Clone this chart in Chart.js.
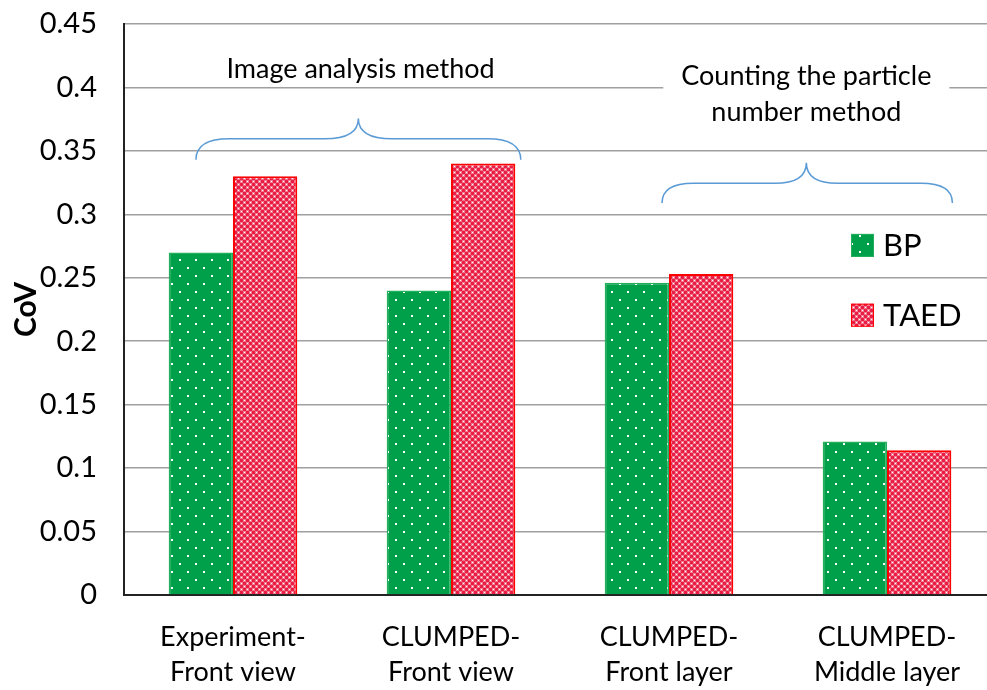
<!DOCTYPE html>
<html>
<head>
<meta charset="utf-8">
<script src="https://cdn.jsdelivr.net/npm/chart.js@4/dist/chart.umd.min.js"></script>
<style>
  html, body { margin: 0; padding: 0; background: #fff; overflow: hidden; }
  #wrap { position: relative; width: 1000px; height: 690px; }
</style>
</head>
<body>
<div id="wrap"><canvas id="c"></canvas></div>
<script>
// Categories (two-line labels) and CoV values per series
const categories = [
  ['Experiment-', 'Front view'],
  ['CLUMPED-', 'Front view'],
  ['CLUMPED-', 'Front layer'],
  ['CLUMPED-', 'Middle layer']
];
const bpValues   = [0.27, 0.24, 0.246, 0.121];
const taedValues = [0.33, 0.34, 0.253, 0.114];
const seriesNames = ['BP', 'TAED'];

const FONT = 'Lato, "Open Sans", sans-serif';

// Fill patterns: green with sparse white dots, red with a dense white checker
function dotPattern() {
  const c = document.createElement('canvas');
  c.width = 16; c.height = 16;
  const g = c.getContext('2d');
  g.fillStyle = '#00A04B';
  g.fillRect(0, 0, 16, 16);
  g.fillStyle = '#ffffff';
  g.fillRect(3, 3, 2, 2);
  g.fillRect(11, 11, 2, 2);
  return g.createPattern(c, 'repeat');
}
function checkPattern() {
  const c = document.createElement('canvas');
  c.width = 6; c.height = 6;
  const g = c.getContext('2d');
  g.fillStyle = '#EA1E44';
  g.fillRect(0, 0, 6, 6);
  g.fillStyle = '#F27A90';
  g.fillRect(0, 0, 3, 3);
  g.fillRect(3, 3, 3, 3);
  g.fillStyle = '#ffffff';
  g.fillRect(1, 1, 1, 1);
  g.fillRect(4, 4, 1, 1);
  return g.createPattern(c, 'repeat');
}
const greenFill = dotPattern();
const redFill = checkPattern();

// Brace annotations + group captions; x in category units, y in CoV units
const groups = [
  { left: -0.17, right: 1.32, peak: 0.575, textX: 0.585, lines: ['Image analysis method'],
    textY: 0.414, braceTop: 0.3755, braceMid: 0.3595, braceEnd: 0.343, backing: false },
  { left: 1.968, right: 3.30, peak: 2.63, textX: 2.63, lines: ['Counting the particle', 'number method'],
    textY: 0.4085, braceTop: 0.3407, braceMid: 0.3245, braceEnd: 0.309, backing: true }
];

const annotationPlugin = {
  id: 'groupBraces',
  afterDatasetsDraw(chart) {
    const { ctx, scales: { x, y } } = chart;
    ctx.save();
    groups.forEach(gr => {
      const left = x.getPixelForValue(gr.left);
      const right = x.getPixelForValue(gr.right);
      const cx = x.getPixelForValue(gr.peak);
      const tx = x.getPixelForValue(gr.textX);
      const yTop = y.getPixelForValue(gr.braceTop);
      const yMid = y.getPixelForValue(gr.braceMid);
      const yEnd = y.getPixelForValue(gr.braceEnd);
      const r = yEnd - yMid;
      // caption (optionally with white backing over the grid)
      ctx.font = '27px ' + FONT;
      ctx.textAlign = 'center';
      ctx.textBaseline = 'middle';
      const ty = y.getPixelForValue(gr.textY);
      const lh = 36;
      if (gr.backing) {
        const w = Math.max(...gr.lines.map(l => ctx.measureText(l).width)) + 36;
        ctx.fillStyle = '#fff';
        ctx.fillRect(tx - w / 2, ty - 22, w, lh * gr.lines.length + 8);
      }
      ctx.fillStyle = '#000';
      gr.lines.forEach((l, k) => ctx.fillText(l, tx, ty + k * lh));
      // curly brace
      ctx.strokeStyle = '#5B9BD5';
      ctx.lineWidth = 1.5;
      ctx.beginPath();
      ctx.moveTo(left, yEnd);
      ctx.quadraticCurveTo(left, yMid, left + r * 1.6, yMid);
      ctx.lineTo(cx - r * 1.6, yMid);
      ctx.quadraticCurveTo(cx, yMid, cx, yTop);
      ctx.quadraticCurveTo(cx, yMid, cx + r * 1.6, yMid);
      ctx.lineTo(right - r * 1.6, yMid);
      ctx.quadraticCurveTo(right, yMid, right, yEnd);
      ctx.stroke();
    });
    // in-plot legend
    const legendX = x.getPixelForValue(3) - 36;
    const legendY = [y.getPixelForValue(0.2755), y.getPixelForValue(0.2205)];
    chart.data.datasets.forEach((ds, i) => {
      const yy = legendY[i];
      ctx.fillStyle = ds.backgroundColor;
      ctx.fillRect(legendX, yy - 11.5, 23, 23);
      ctx.strokeStyle = ds.borderColor;
      ctx.lineWidth = 1;
      ctx.strokeRect(legendX + 0.5, yy - 11, 22, 22);
      ctx.fillStyle = '#000';
      ctx.font = '31px ' + FONT;
      ctx.textAlign = 'left';
      ctx.textBaseline = 'middle';
      ctx.fillText(ds.label, legendX + 32, yy + 1);
    });
    ctx.restore();
  }
};

new Chart(document.getElementById('c'), {
  type: 'bar',
  data: {
    labels: categories,
    datasets: [
      { label: seriesNames[0], data: bpValues, backgroundColor: greenFill, borderColor: '#22B05A', borderWidth: 1.5 },
      { label: seriesNames[1], data: taedValues, backgroundColor: redFill, borderColor: '#FF0000', borderWidth: 2 }
    ]
  },
  options: {
    responsive: true,
    maintainAspectRatio: false,
    animation: false,
    layout: { padding: { top: 24, right: 4, left: 0, bottom: 0 } },
    datasets: { bar: { barPercentage: 1, categoryPercentage: 0.59 } },
    plugins: { legend: { display: false }, tooltip: { enabled: false } },
    scales: {
      x: {
        grid: { display: false, drawTicks: false },
        border: { color: '#222', width: 2 },
        ticks: { color: '#000', font: { family: FONT, size: 27, lineHeight: 1.3 }, padding: 25, maxRotation: 0, autoSkip: false },
        afterFit(s) { s.height = 95; s.paddingLeft = 0; s.paddingRight = 0; }
      },
      y: {
        min: 0, max: 0.45,
        grid: { color: '#A0A0A0', lineWidth: 1.5, drawTicks: false },
        border: { color: '#222', width: 2 },
        ticks: { stepSize: 0.05, color: '#000', font: { family: FONT, size: 29 }, padding: 27,
                 callback: v => String(Math.round(v * 100) / 100) },
        title: { display: true, text: 'CoV', color: '#000', font: { family: FONT, size: 30, weight: 'bold' }, padding: { top: 8, bottom: 0 } },
        afterFit(s) { s.width = 124; s.paddingTop = 0; s.paddingBottom = 0; }
      }
    }
  },
  plugins: [annotationPlugin]
});
</script>
</body>
</html>
